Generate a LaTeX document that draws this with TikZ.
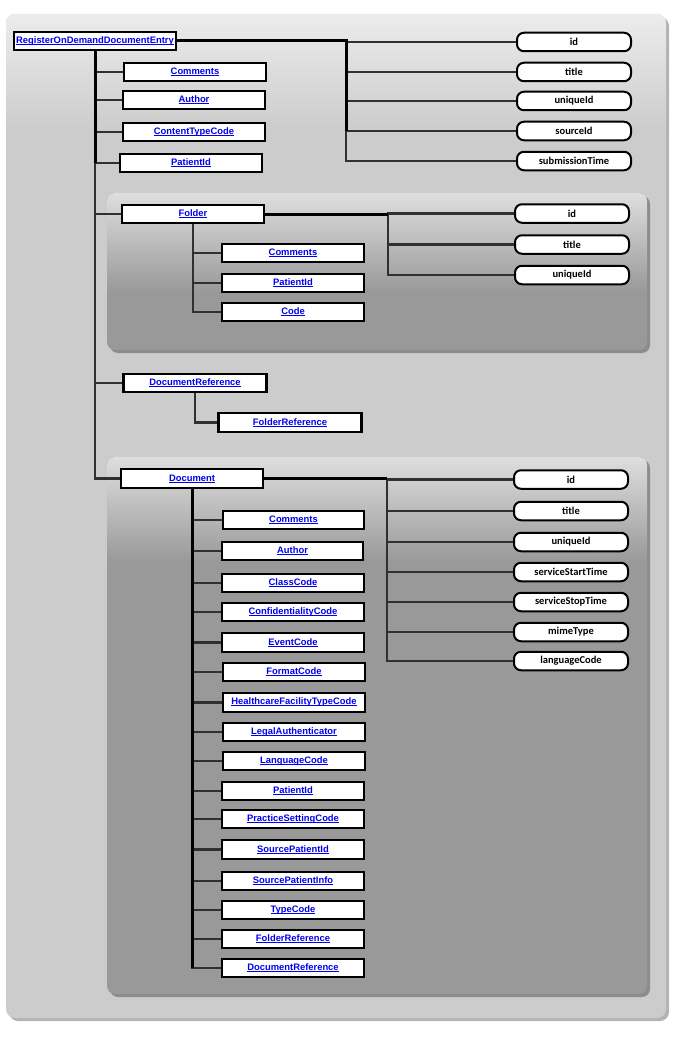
\documentclass[tikz,border=0pt]{standalone}
\usepackage{fontspec}
\setmainfont{Liberation Sans}
\newfontfamily\attrfamily{Carlito}
\usetikzlibrary{backgrounds}

\definecolor{linkblue}{RGB}{0,0,238}
\definecolor{outertop}{RGB}{236,236,236}
\definecolor{outerbase}{RGB}{204,204,204}
\definecolor{outershadow}{RGB}{180,180,180}
\definecolor{innertop}{RGB}{222,222,222}
\definecolor{innerbase}{RGB}{153,153,153}
\definecolor{innershadow}{RGB}{140,140,140}
\definecolor{branchgray}{RGB}{48,48,48}

\tikzset{
  linkbox/.style={draw=black, line width=2.1pt, fill=white, inner sep=0pt,
    minimum width=141.5pt, minimum height=18.5pt, text=linkblue,
    font=\fontsize{9.4}{11}\selectfont\bfseries},
  attrbox/.style={draw=black, line width=2pt, fill=white, inner sep=0pt,
    rounded corners=7pt, minimum width=114pt, minimum height=18.5pt,
    font=\attrfamily\fontsize{10.5}{12}\selectfont\bfseries},
  trunk/.style={draw=black, line width=3pt},
  branch/.style={draw=branchgray, line width=2.2pt},
}
% link text with a close underline
\newcommand{\lnk}[1]{\setbox0\hbox{#1}\rlap{\rule[-1.3pt]{\wd0}{0.75pt}}\box0}

\begin{document}
\begin{tikzpicture}[x=1pt, y=-1pt]
\useasboundingbox (0,0) rectangle (686,1038);

% ---- panels ----
\begin{scope}[on background layer]
  \fill[white] (0,0) rectangle (686,1038);
  % outer panel
  \fill[outershadow, rounded corners=9pt] (9,17) rectangle (669,1021);
  \begin{scope}
    \clip[rounded corners=9pt] (6,14) rectangle (666,1018);
    \fill[outerbase] (6,14) rectangle (666,1018);
    \shade[top color=outertop, bottom color=outerbase] (6,14) rectangle (666,130);
  \end{scope}
  % folder panel
  \fill[innershadow, rounded corners=8pt] (110,196) rectangle (650,353);
  \begin{scope}
    \clip[rounded corners=8pt] (107,193) rectangle (647,350);
    \fill[innerbase] (107,193) rectangle (647,350);
    \shade[top color=innertop, bottom color=innerbase] (107,193) rectangle (647,292);
  \end{scope}
  % document panel
  \fill[innershadow, rounded corners=8pt] (110,460) rectangle (650,997);
  \begin{scope}
    \clip[rounded corners=8pt] (107,457) rectangle (647,994);
    \fill[innerbase] (107,457) rectangle (647,994);
    \shade[top color=innertop, bottom color=innerbase] (107,457) rectangle (647,562);
  \end{scope}
\end{scope}

% ---- root entry ----
\node[linkbox, minimum width=162pt] (root) at (95,41) {\lnk{RegisterOnDemandDocumentEntry}};
\node[linkbox] (rc1) at (195,72)  {\lnk{Comments}};
\node[linkbox] (rc2) at (194,100) {\lnk{Author}};
\node[linkbox] (rc3) at (194,132) {\lnk{ContentTypeCode}};
\node[linkbox] (rc4) at (191,163) {\lnk{PatientId}};

\node[attrbox] (ra1) at (574,42)  {id};
\node[attrbox] (ra2) at (574,72)  {title};
\node[attrbox] (ra3) at (574,101) {uniqueId};
\node[attrbox] (ra4) at (574,131) {sourceId};
\node[attrbox] (ra5) at (574,161) {submissionTime};

% ---- folder ----
\node[linkbox] (folder) at (193,214) {\lnk{Folder}};
\node[linkbox] (fc1) at (293,253) {\lnk{Comments}};
\node[linkbox] (fc2) at (293,283) {\lnk{PatientId}};
\node[linkbox] (fc3) at (293,312) {\lnk{Code}};

\node[attrbox] (fa1) at (572,213.5) {id};
\node[attrbox] (fa2) at (572,244.5) {title};
\node[attrbox] (fa3) at (572,275)   {uniqueId};

% ---- document reference ----
\node[linkbox, minimum width=143pt] (docref) at (195,383) {\lnk{DocumentReference}};
\node[linkbox, minimum width=143pt] (drfolder) at (290,422.5) {\lnk{FolderReference}};

% ---- document ----
\node[linkbox] (document) at (192,478.5) {\lnk{Document}};
\node[linkbox] (dc1)  at (293.5,520)   {\lnk{Comments}};
\node[linkbox] (dc2)  at (292.5,551)   {\lnk{Author}};
\node[linkbox] (dc3)  at (293,583)     {\lnk{ClassCode}};
\node[linkbox] (dc4)  at (293,612)     {\lnk{ConfidentialityCode}};
\node[linkbox] (dc5)  at (293,642.5)   {\lnk{EventCode}};
\node[linkbox] (dc6)  at (294,672)     {\lnk{FormatCode}};
\node[linkbox] (dc7)  at (294,702.5)   {\lnk{HealthcareFacilityTypeCode}};
\node[linkbox] (dc8)  at (294,732)     {\lnk{LegalAuthenticator}};
\node[linkbox] (dc9)  at (294,761)     {\lnk{LanguageCode}};
\node[linkbox] (dc10) at (293,791)     {\lnk{PatientId}};
\node[linkbox] (dc11) at (293,819)     {\lnk{PracticeSettingCode}};
\node[linkbox] (dc12) at (293,849.5)   {\lnk{SourcePatientId}};
\node[linkbox] (dc13) at (293,881)     {\lnk{SourcePatientInfo}};
\node[linkbox] (dc14) at (293,910)     {\lnk{TypeCode}};
\node[linkbox] (dc15) at (293,939)     {\lnk{FolderReference}};
\node[linkbox] (dc16) at (293,968)     {\lnk{DocumentReference}};

\node[attrbox] (da1) at (571,479.5) {id};
\node[attrbox] (da2) at (571,511)   {title};
\node[attrbox] (da3) at (571,542)   {uniqueId};
\node[attrbox] (da4) at (571,572)   {serviceStartTime};
\node[attrbox] (da5) at (571,602)   {serviceStopTime};
\node[attrbox] (da6) at (571,632)   {mimeType};
\node[attrbox] (da7) at (571,661)   {languageCode};

% ---- junction points ----
\coordinate (rj) at (346,41);
\coordinate (fj) at (388,214);
\coordinate (dj) at (387,478.5);

% ---- connectors ----
\begin{scope}[on background layer]
  % root children
  \foreach \c in {rc1,rc2,rc3,rc4,folder,docref,document}
    \draw[branch] (root.south) |- (\c.west);
  \draw[trunk] (root.south) -- (root.south |- rc4.west);
  % root attributes
  \foreach \a in {ra1,ra2,ra3,ra4,ra5}
    \draw[branch] (rj) |- (\a.west);
  \draw[trunk] (root.east) -- (rj) -- (rj |- ra4.west);
  % folder children and attributes
  \foreach \c in {fc1,fc2,fc3}
    \draw[branch] (folder.south) |- (\c.west);
  \foreach \a in {fa1,fa2,fa3}
    \draw[branch] (fj) |- (\a.west);
  \draw[trunk] (folder.east) -- (fj);
  % document reference child
  \draw[branch] (docref.south) |- (drfolder.west);
  % document children and attributes
  \foreach \c in {dc1,dc2,dc3,dc4,dc5,dc6,dc7,dc8,dc9,dc10,dc11,dc12,dc13,dc14,dc15,dc16}
    \draw[branch] (document.south) |- (\c.west);
  \draw[trunk] (document.south) -- (document.south |- dc16.west);
  \foreach \a in {da1,da2,da3,da4,da5,da6,da7}
    \draw[branch] (dj) |- (\a.west);
  \draw[trunk] (document.east) -- (dj);
\end{scope}
\end{tikzpicture}
\end{document}
